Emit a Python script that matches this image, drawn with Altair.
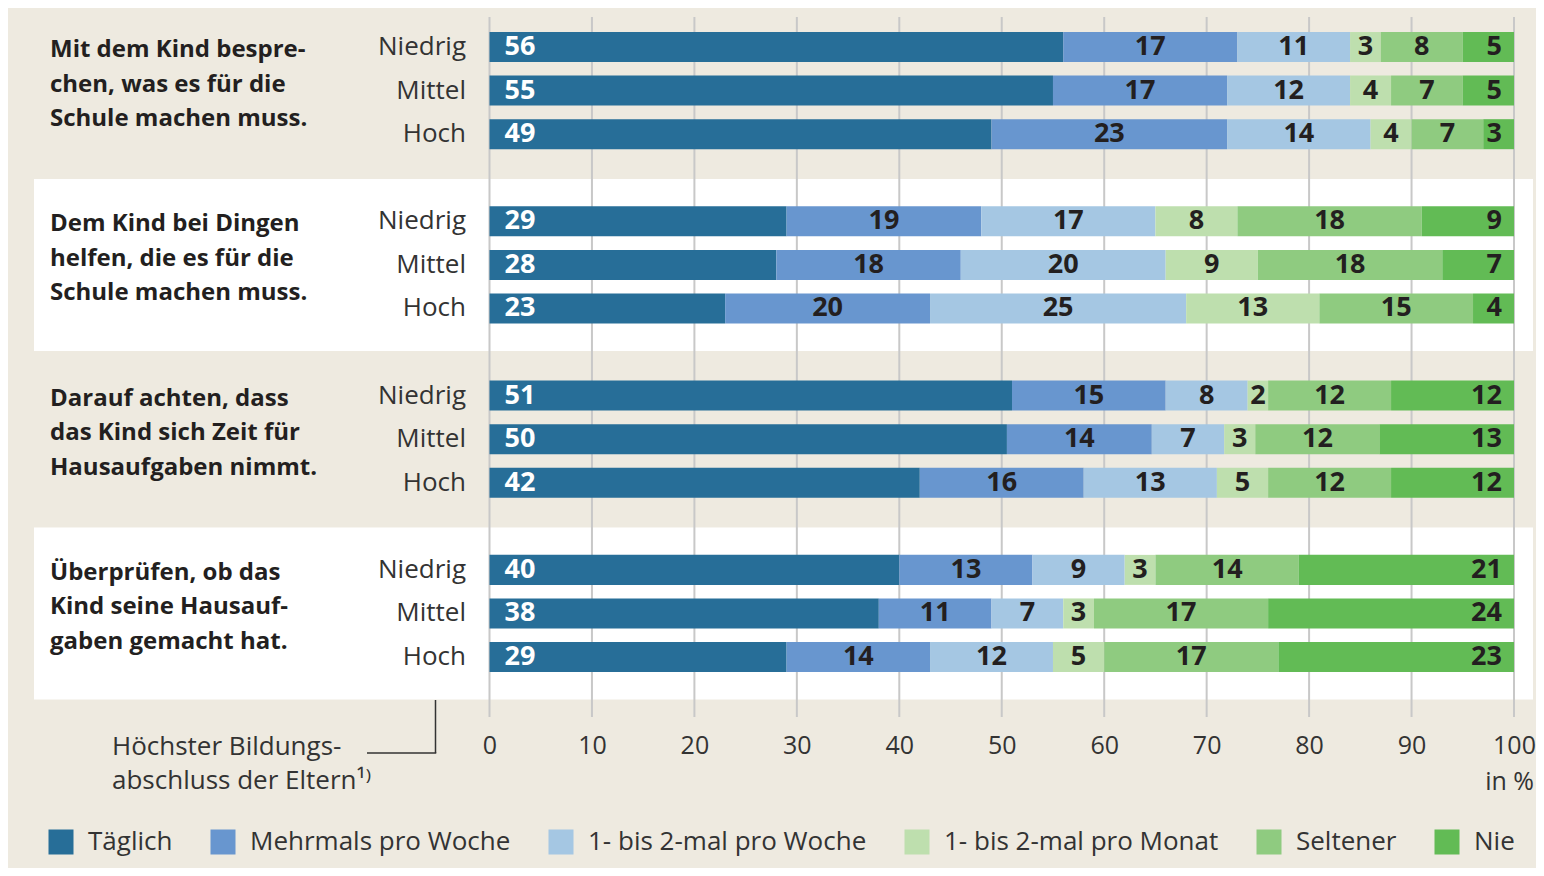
import altair as alt
import pandas as pd

# ---------------- data ----------------
groups = [
    "Mit dem Kind bespre-\nchen, was es für die\nSchule machen muss.",
    "Dem Kind bei Dingen\nhelfen, die es für die\nSchule machen muss.",
    "Darauf achten, dass\ndas Kind sich Zeit für\nHausaufgaben nimmt.",
    "Überprüfen, ob das\nKind seine Hausauf-\ngaben gemacht hat.",
]
levels = ["Niedrig", "Mittel", "Hoch"]
categories = ["Täglich", "Mehrmals pro Woche", "1- bis 2-mal pro Woche",
              "1- bis 2-mal pro Monat", "Seltener", "Nie"]
colors = ["#276E98", "#6896CF", "#A5C7E3", "#BEDFAE", "#8FCB80", "#62BB55"]

# values per row: group1 (N, M, H), group2 (N, M, H), ...
taeglich = [56, 55, 49, 29, 28, 23, 51, 50, 42, 40, 38, 29]
mehrmals = [17, 17, 23, 19, 18, 20, 15, 14, 16, 13, 11, 14]
woche_12 = [11, 12, 14, 17, 20, 25, 8, 7, 13, 9, 7, 12]
monat_12 = [3, 4, 4, 8, 9, 13, 2, 3, 5, 3, 3, 5]
seltener = [8, 7, 7, 18, 18, 15, 12, 12, 12, 14, 17, 17]
nie = [5, 5, 3, 9, 7, 4, 12, 13, 12, 21, 24, 23]
ticks = [0, 10, 20, 30, 40, 50, 60, 70, 80, 90, 100]

series = [taeglich, mehrmals, woche_12, monat_12, seltener, nie]

FONT = "Open Sans"
DARK = "#231F20"
GREY = "#333333"

# ---------------- tables ----------------
slots = []
for gi in range(len(groups)):
    for lev in levels:
        slots.append(f"{gi}|{lev}")
    slots.append(f"{gi}|")

rows = []
for gi in range(len(groups)):
    for li, lev in enumerate(levels):
        r = gi * 3 + li
        vals = [s[r] for s in series]
        total = float(sum(vals))
        cum = 0.0
        for ci, cat in enumerate(categories):
            start = cum / total * 100
            cum += vals[ci]
            end = cum / total * 100
            rows.append(dict(slot=f"{gi}|{lev}", cat=cat, order=ci, value=vals[ci],
                             start=start, end=end, mid=(start + end) / 2))
df = pd.DataFrame(rows)

df_groups = pd.DataFrame({"slot": [f"{gi}|Niedrig" for gi in range(len(groups))],
                          "label": groups})
df_bands = pd.DataFrame({"slot": ["1|Mittel", "3|Mittel"]})
df_ticks = pd.DataFrame({"t": ticks})

W, H = 1024.5, 700

xscale = alt.Scale(domain=[0, 100], nice=False, zero=True)
xaxis = alt.Axis(title=None, values=ticks, grid=False, domain=False, ticks=False,
                 labelFont=FONT, labelFontSize=25, labelColor=GREY, labelPadding=16,
                 labelFlush=False, labelOverlap=False, labelBound=False, zindex=1)
yscale = alt.Scale(domain=slots, paddingInner=0.311, paddingOuter=0.1885, align=0.915)
yaxis = alt.Axis(title=None, grid=False, domain=False, ticks=False,
                 labelExpr="split(datum.label, '|')[1]",
                 labelFont=FONT, labelFontSize=26, labelColor=GREY, labelPadding=24,
                 labelAlign="right", labelBaseline="middle", zindex=1)

Y = alt.Y("slot:N", scale=yscale, axis=yaxis, sort=None)

# white bands behind groups 2 and 4
bands = alt.Chart(df_bands).mark_rule(color="white", strokeWidth=172, strokeCap="butt").encode(
    y=Y, x=alt.value(-455.5), x2=alt.value(1043.5)
)

grid = alt.Chart(df_ticks).mark_rule(color="#C8C8C8", strokeWidth=2).encode(
    x=alt.X("t:Q", scale=xscale, axis=xaxis),
    y=alt.value(0), y2=alt.value(H)
)

bars = alt.Chart(df).mark_bar(stroke=None).encode(
    x=alt.X("start:Q", scale=xscale, axis=xaxis),
    x2="end:Q",
    y=Y,
    color=alt.Color("cat:N", scale=alt.Scale(domain=categories, range=colors),
                    legend=alt.Legend(orient="none", legendX=-441.5, legendY=812,
                                      direction="horizontal", columns=6, title=None,
                                      symbolType="square", symbolSize=625,
                                      symbolStrokeWidth=0, symbolOpacity=1,
                                      labelFont=FONT, labelFontSize=26, labelColor=GREY,
                                      labelOffset=14, columnPadding=37, labelLimit=0,
                                      padding=0)),
    order=alt.Order("order:Q"),
)

txt_first = alt.Chart(df).transform_filter(alt.datum.order == 0).mark_text(
    align="left", baseline="middle", dx=15, font=FONT, fontSize=27, fontWeight="bold",
    color="white"
).encode(x=alt.X("start:Q", scale=xscale, axis=xaxis), y=Y, text="value:Q")

txt_mid = alt.Chart(df).transform_filter(
    (alt.datum.order > 0) & (alt.datum.order < 5)
).mark_text(
    align="center", baseline="middle", font=FONT, fontSize=27, fontWeight="bold", color=DARK
).encode(x=alt.X("mid:Q", scale=xscale, axis=xaxis), y=Y, text="value:Q")

txt_last = alt.Chart(df).transform_filter(alt.datum.order == 5).mark_text(
    align="right", baseline="middle", dx=-12, font=FONT, fontSize=27, fontWeight="bold",
    color=DARK
).encode(x=alt.X("end:Q", scale=xscale, axis=xaxis), y=Y, text="value:Q")

group_labels = alt.Chart(df_groups).mark_text(
    align="left", baseline="alphabetic", dy=10, lineBreak="\n", lineHeight=34.5,
    font=FONT, fontSize=24, fontWeight="bold", color=DARK
).encode(x=alt.value(-439.5), y=Y, text="label:N")

foot = alt.Chart(pd.DataFrame({"t": ["Höchster Bildungs-\nabschluss der Eltern¹⁾"]})).mark_text(
    align="left", baseline="alphabetic", lineBreak="\n", lineHeight=34,
    font=FONT, fontSize=26, color=GREY
).encode(x=alt.value(-377.5), y=alt.value(738), text="t:N")

unit = alt.Chart(pd.DataFrame({"t": ["in %"]})).mark_text(
    align="right", baseline="alphabetic", font=FONT, fontSize=25, color=GREY
).encode(x=alt.value(1044.5), y=alt.value(773), text="t:N")

conn_v = alt.Chart(pd.DataFrame({"a": [0]})).mark_rule(color=GREY, strokeWidth=1.5).encode(
    x=alt.value(-54), y=alt.value(683), y2=alt.value(736)
)
conn_h = alt.Chart(pd.DataFrame({"a": [0]})).mark_rule(color=GREY, strokeWidth=1.5).encode(
    x=alt.value(-122.5), x2=alt.value(-53.25), y=alt.value(736)
)

chart = alt.layer(
    bands, grid, bars, txt_first, txt_mid, txt_last, group_labels, foot, unit, conn_v, conn_h
).properties(
    width=W, height=H,
    autosize=alt.AutoSizeParams(type="none"),
    padding={"left": 481.5, "top": 9, "right": 22, "bottom": 151},
    background="#EEEAE0",
).configure_view(stroke=None)

chart.save("out.html", embed_options={"renderer": "svg", "actions": False})
